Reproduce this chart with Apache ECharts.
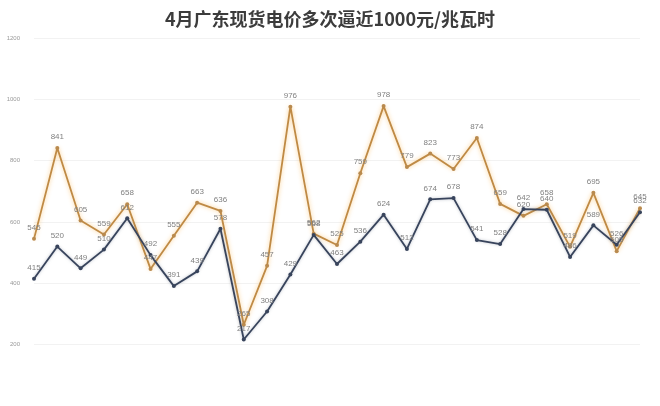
<!DOCTYPE html>
<html>
<head>
<meta charset="utf-8">
<script src="https://cdn.jsdelivr.net/npm/echarts@6/dist/echarts.min.js"></script>
<style>
html,body{margin:0;padding:0;background:#fff;}
#c{width:660px;height:406px;}
</style>
</head>
<body>
<div id="c"></div>
<script>
var title = '4月广东现货电价多次逼近1000元/兆瓦时';
var days = ['1','2','3','4','5','6','7','8','9','10','11','12','13','14','15','16','17','18','19','20','21','22','23','24','25','26','27'];
var seriesA = [545, 841, 605, 559, 658, 447, 555, 663, 636, 265, 457, 976, 562, 525, 759, 978, 779, 823, 773, 874, 659, 620, 658, 519, 695, 505, 645];
var seriesB = [415, 520, 449, 510, 612, 492, 391, 439, 578, 217, 308, 429, 558, 463, 536, 624, 512, 674, 678, 541, 528, 642, 640, 486, 589, 526, 632];
var yTicks = [0, 200, 400, 600, 800, 1000, 1200];

var chart = echarts.init(document.getElementById('c'), null, {renderer: 'canvas'});
chart.setOption({
  backgroundColor: '#ffffff',
  animation: false,
  title: {
    text: title,
    left: 'center',
    top: 5,
    textStyle: {fontFamily: 'Noto Sans CJK SC', fontSize: 18, fontWeight: 'bold', color: '#3c3c3c'}
  },
  grid: {left: 34, right: 20, top: 38, bottom: 0, containLabel: false},
  xAxis: {
    type: 'category',
    data: days,
    boundaryGap: false,
    axisLine: {show: false},
    axisTick: {show: false},
    axisLabel: {show: false},
    splitLine: {show: false}
  },
  yAxis: {
    type: 'value',
    min: yTicks[0],
    max: yTicks[yTicks.length - 1],
    interval: 200,
    axisLine: {show: false},
    axisTick: {show: false},
    axisLabel: {
      fontSize: 6, color: '#999', margin: 14,
      formatter: function (v) { return v === 0 ? '' : String(v); }
    },
    splitLine: {lineStyle: {color: '#f2f2f2', width: 1}}
  },
  series: [
    {
      name: 'A',
      type: 'line',
      data: seriesA,
      symbol: 'circle',
      symbolSize: 4,
      itemStyle: {color: '#b98a4e'},
      lineStyle: {color: '#bf8a45', width: 1.8, shadowColor: 'rgba(250,190,100,0.8)', shadowBlur: 4},
      label: {show: true, position: 'top', fontSize: 8, color: '#808080', distance: 5}
    },
    {
      name: 'B',
      type: 'line',
      data: seriesB,
      symbol: 'circle',
      symbolSize: 4,
      itemStyle: {color: '#38445c'},
      lineStyle: {color: '#38445c', width: 1.8, shadowColor: 'rgba(120,130,150,0.5)', shadowBlur: 3},
      label: {show: true, position: 'top', fontSize: 8, color: '#808080', distance: 5}
    }
  ]
});
</script>
</body>
</html>
